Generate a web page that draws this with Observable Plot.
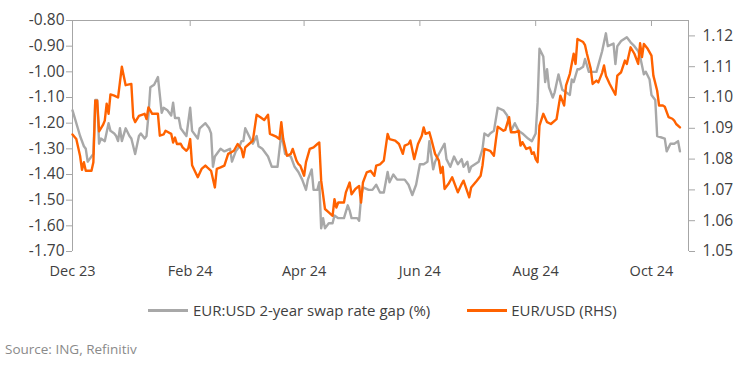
<!DOCTYPE html>
<html><head><meta charset="utf-8">
<script src="https://cdn.jsdelivr.net/npm/d3@7"></script>
<script src="https://cdn.jsdelivr.net/npm/@observablehq/plot@0.6"></script>
<style>
body{margin:0;background:#fff;font-family:"Open Sans",sans-serif;}
#wrap{position:relative;width:745px;height:367px;overflow:hidden;}
#legend{position:absolute;top:300px;left:148px;display:flex;align-items:center;font-size:15px;color:#404040;white-space:nowrap;}
.sw{display:inline-block;width:40px;height:3px;margin-right:5px;}
#source{position:absolute;left:5px;top:340px;font-size:13.5px;color:#8a8a8a;}
</style></head><body>
<div id="wrap"><div id="chart"></div>
<div id="legend"><span class="sw" style="background:#a8a8a8"></span><span>EUR:USD 2-year swap rate gap (%)</span><span class="sw" style="background:#ff6200;margin-left:37px;margin-right:4px"></span><span>EUR/USD (RHS)</span></div>
<div id="source">Source: ING, Refinitiv</div></div>
<script>
const gapDates = ["2023-12-01","2023-12-03","2023-12-05","2023-12-07","2023-12-08","2023-12-09","2023-12-10","2023-12-11","2023-12-12","2023-12-13","2023-12-14","2023-12-15","2023-12-16","2023-12-18","2023-12-20","2023-12-21","2023-12-23","2023-12-24","2023-12-25","2023-12-26","2023-12-27","2023-12-29","2023-12-31",
"2024-01-01","2024-01-03","2024-01-05","2024-01-06","2024-01-08","2024-01-09","2024-01-10","2024-01-11","2024-01-13","2024-01-15","2024-01-17","2024-01-18","2024-01-20","2024-01-22","2024-01-23","2024-01-24","2024-01-26","2024-01-27","2024-01-29","2024-01-30",
"2024-02-01","2024-02-02","2024-02-04","2024-02-05","2024-02-06","2024-02-09","2024-02-11","2024-02-12","2024-02-13","2024-02-14","2024-02-17","2024-02-19","2024-02-22","2024-02-23","2024-02-25","2024-02-27","2024-02-28","2024-02-29",
"2024-03-01","2024-03-03","2024-03-05","2024-03-07","2024-03-08","2024-03-10","2024-03-13","2024-03-15","2024-03-18","2024-03-20","2024-03-22","2024-03-25","2024-03-27","2024-03-29","2024-03-31",
"2024-04-02","2024-04-03","2024-04-05","2024-04-06","2024-04-08","2024-04-09","2024-04-10","2024-04-11","2024-04-12","2024-04-14","2024-04-16","2024-04-17","2024-04-19","2024-04-22","2024-04-24","2024-04-25","2024-04-26","2024-04-29","2024-04-30",
"2024-05-01","2024-05-02","2024-05-05","2024-05-07","2024-05-09","2024-05-11","2024-05-13","2024-05-15","2024-05-16","2024-05-18","2024-05-20","2024-05-23","2024-05-24","2024-05-26","2024-05-28","2024-05-30",
"2024-06-01","2024-06-03","2024-06-05","2024-06-06","2024-06-08","2024-06-09","2024-06-11","2024-06-14","2024-06-15","2024-06-17","2024-06-19","2024-06-21","2024-06-23","2024-06-24","2024-06-26","2024-06-27","2024-06-28","2024-06-30",
"2024-07-02","2024-07-04","2024-07-05","2024-07-07","2024-07-08","2024-07-10","2024-07-12","2024-07-15","2024-07-17","2024-07-19","2024-07-21","2024-07-23","2024-07-25","2024-07-28","2024-07-30",
"2024-08-01","2024-08-02","2024-08-03","2024-08-05","2024-08-06","2024-08-07","2024-08-08","2024-08-10","2024-08-11","2024-08-13","2024-08-15","2024-08-17","2024-08-19","2024-08-20","2024-08-21","2024-08-23","2024-08-24","2024-08-26","2024-08-27","2024-08-29","2024-08-31",
"2024-09-02","2024-09-05","2024-09-07","2024-09-08","2024-09-11","2024-09-12","2024-09-13","2024-09-15","2024-09-18","2024-09-20","2024-09-22","2024-09-24","2024-09-25","2024-09-27","2024-09-28","2024-09-30",
"2024-10-01","2024-10-03","2024-10-04","2024-10-08","2024-10-09","2024-10-11","2024-10-13","2024-10-15","2024-10-16"];
const gapValues = [-1.15,-1.20,-1.25,-1.29,-1.30,-1.35,-1.34,-1.33,-1.32,-1.11,-1.11,-1.28,-1.26,-1.27,-1.20,-1.23,-1.24,-1.25,-1.27,-1.22,-1.27,-1.22,-1.25,
-1.26,-1.32,-1.25,-1.24,-1.26,-1.25,-1.17,-1.06,-1.05,-1.02,-1.16,-1.14,-1.15,-1.17,-1.12,-1.18,-1.18,-1.22,-1.24,-1.25,
-1.14,-1.23,-1.25,-1.26,-1.22,-1.20,-1.22,-1.24,-1.37,-1.33,-1.30,-1.31,-1.30,-1.35,-1.31,-1.29,-1.27,-1.27,
-1.22,-1.25,-1.28,-1.25,-1.29,-1.30,-1.33,-1.37,-1.37,-1.24,-1.32,-1.33,-1.37,-1.39,-1.42,
-1.46,-1.42,-1.38,-1.46,-1.46,-1.43,-1.61,-1.57,-1.61,-1.59,-1.59,-1.56,-1.57,-1.57,-1.52,-1.54,-1.57,-1.57,-1.58,
-1.49,-1.45,-1.46,-1.46,-1.44,-1.47,-1.47,-1.39,-1.43,-1.40,-1.42,-1.42,-1.42,-1.44,-1.48,-1.44,
-1.36,-1.36,-1.35,-1.27,-1.38,-1.35,-1.32,-1.28,-1.34,-1.37,-1.33,-1.36,-1.34,-1.37,-1.35,-1.39,-1.37,-1.36,
-1.35,-1.30,-1.24,-1.25,-1.24,-1.23,-1.14,-1.15,-1.17,-1.23,-1.20,-1.23,-1.24,-1.26,-1.27,
-1.24,-1.12,-0.91,-0.94,-1.04,-0.99,-1.06,-1.10,-1.08,-1.01,-1.07,-1.08,-1.09,-1.03,-1.04,-0.99,-0.99,-0.98,-0.95,-1.00,-1.00,
-1.00,-0.92,-0.85,-0.90,-0.89,-0.97,-0.90,-0.88,-0.865,-0.885,-0.90,-0.92,-0.94,-1.01,-1.00,-1.03,
-1.09,-1.11,-1.25,-1.26,-1.31,-1.28,-1.28,-1.27,-1.31];

const fxDates = ["2023-12-01","2023-12-03","2023-12-04","2023-12-05","2023-12-06","2023-12-07","2023-12-08","2023-12-11","2023-12-12","2023-12-13","2023-12-14","2023-12-15","2023-12-17","2023-12-18","2023-12-19","2023-12-20","2023-12-21","2023-12-23","2023-12-25","2023-12-27","2023-12-28","2023-12-29",
"2024-01-01","2024-01-02","2024-01-03","2024-01-05","2024-01-08","2024-01-09","2024-01-10","2024-01-12","2024-01-15","2024-01-16","2024-01-18","2024-01-19","2024-01-22","2024-01-23","2024-01-24","2024-01-25","2024-01-27","2024-01-28","2024-01-30","2024-01-31",
"2024-02-01","2024-02-02","2024-02-05","2024-02-07","2024-02-09","2024-02-10","2024-02-12","2024-02-14","2024-02-15","2024-02-17","2024-02-19","2024-02-21","2024-02-22","2024-02-24","2024-02-26","2024-02-28","2024-02-29",
"2024-03-01","2024-03-03","2024-03-05","2024-03-07","2024-03-09","2024-03-11","2024-03-13","2024-03-14","2024-03-17","2024-03-19","2024-03-20","2024-03-21","2024-03-23","2024-03-25","2024-03-26","2024-03-28","2024-03-29","2024-03-30",
"2024-04-01","2024-04-02","2024-04-04","2024-04-06","2024-04-08","2024-04-09","2024-04-10","2024-04-12","2024-04-14","2024-04-16","2024-04-17","2024-04-18","2024-04-19","2024-04-22","2024-04-23","2024-04-25","2024-04-26","2024-04-28","2024-04-30",
"2024-05-01","2024-05-02","2024-05-04","2024-05-06","2024-05-08","2024-05-09","2024-05-11","2024-05-13","2024-05-15","2024-05-16","2024-05-19","2024-05-21","2024-05-23","2024-05-24","2024-05-26","2024-05-27","2024-05-29","2024-05-31",
"2024-06-02","2024-06-03","2024-06-04","2024-06-06","2024-06-07","2024-06-09","2024-06-11","2024-06-12","2024-06-13","2024-06-14","2024-06-16","2024-06-18","2024-06-21","2024-06-23","2024-06-24","2024-06-27","2024-06-28",
"2024-07-01","2024-07-03","2024-07-04","2024-07-05","2024-07-08","2024-07-10","2024-07-11","2024-07-12","2024-07-15","2024-07-16","2024-07-18","2024-07-19","2024-07-21","2024-07-23","2024-07-24","2024-07-25","2024-07-27","2024-07-29","2024-07-30","2024-07-31",
"2024-08-01","2024-08-02","2024-08-03","2024-08-05","2024-08-07","2024-08-09","2024-08-12","2024-08-14","2024-08-16","2024-08-17","2024-08-19","2024-08-21","2024-08-22","2024-08-23","2024-08-26","2024-08-27","2024-08-28","2024-08-30","2024-08-31",
"2024-09-02","2024-09-03","2024-09-05","2024-09-06","2024-09-07","2024-09-09","2024-09-12","2024-09-13","2024-09-15","2024-09-17","2024-09-18","2024-09-20","2024-09-22","2024-09-24","2024-09-25","2024-09-26","2024-09-27","2024-09-29",
"2024-10-01","2024-10-02","2024-10-04","2024-10-05","2024-10-07","2024-10-08","2024-10-10","2024-10-12","2024-10-13","2024-10-14","2024-10-16"];
const fxValues = [1.0880,1.0865,1.0838,1.0810,1.0765,1.0790,1.0762,1.0762,1.0790,1.0990,1.0990,1.0890,1.0910,1.0925,1.0980,1.0947,1.1010,1.1006,1.1000,1.1100,1.1070,1.1040,
1.1044,1.0936,1.0920,1.0940,1.0947,1.0930,1.0968,1.0947,1.0947,1.0876,1.0880,1.0892,1.0882,1.0854,1.0870,1.0849,1.0850,1.0838,1.0827,1.0835,
1.0865,1.0780,1.0741,1.0768,1.0779,1.0773,1.0762,1.0708,1.0768,1.0773,1.0779,1.0817,1.0820,1.0827,1.0849,1.0833,1.0806,
1.0838,1.0849,1.0860,1.0944,1.0936,1.0927,1.0944,1.0882,1.0874,1.0865,1.0920,1.0865,1.0811,1.0817,1.0833,1.0795,1.0784,1.0779,
1.0746,1.0790,1.0833,1.0838,1.0849,1.0854,1.0730,1.0638,1.0627,1.0616,1.0670,1.0643,1.0659,1.0659,1.0692,1.0724,1.0686,1.0703,1.0713,
1.0659,1.0724,1.0757,1.0762,1.0746,1.0779,1.0783,1.0795,1.0882,1.0865,1.0860,1.0849,1.0817,1.0844,1.0849,1.0860,1.0800,1.0849,
1.0876,1.0903,1.0882,1.0887,1.0865,1.0817,1.0795,1.0755,1.0775,1.0703,1.0719,1.0741,1.0692,1.0719,1.0730,1.0676,1.0708,
1.0730,1.0746,1.0780,1.0833,1.0827,1.0811,1.0860,1.0905,1.0892,1.0895,1.0936,1.0887,1.0887,1.0892,1.0844,1.0855,1.0833,1.0838,1.0817,1.0822,
1.0800,1.0790,1.0909,1.0947,1.0920,1.0914,1.0930,1.1006,1.0974,1.1039,1.1077,1.1142,1.1109,1.1190,1.1180,1.1170,1.1142,1.1093,1.1044,
1.1055,1.1049,1.1080,1.1104,1.1071,1.1044,1.1009,1.1071,1.1082,1.1120,1.1109,1.1163,1.1142,1.1109,1.1176,1.1131,1.1174,1.1158,
1.1136,1.1071,1.1022,1.0974,1.0974,1.0970,1.0936,1.0931,1.0925,1.0914,1.0903];

const leftTicks = [-1.70,-1.60,-1.50,-1.40,-1.30,-1.20,-1.10,-1.00,-0.90,-0.80];
const rightTicks = [1.05,1.06,1.07,1.08,1.09,1.10,1.11,1.12];
const monthTicks = ["2023-12-01","2024-02-01","2024-04-01","2024-06-01","2024-08-01","2024-10-01"];
const leftDomain = [-1.70, -0.80];
const rightDomain = [1.05, 1.125];
const xDomain = ["2023-12-01", "2024-10-20T12:00Z"];

const toLeft = v => leftDomain[0] + (v - rightDomain[0]) * (leftDomain[1] - leftDomain[0]) / (rightDomain[1] - rightDomain[0]);
const fromLeft = v => rightDomain[0] + (v - leftDomain[0]) * (rightDomain[1] - rightDomain[0]) / (leftDomain[1] - leftDomain[0]);

const gap = gapDates.map((d, i) => ({date: new Date(d), value: gapValues[i]}));
const fx = fxDates.map((d, i) => ({date: new Date(d), value: fxValues[i]}));
const months = monthTicks.map(d => new Date(d));
const xd = xDomain.map(d => new Date(d));

const axisColor = "#a6a6a6";
const chart = Plot.plot({
  width: 745,
  height: 290,
  marginTop: 20,
  marginBottom: 39,
  marginLeft: 72,
  marginRight: 57,
  style: {fontFamily: "'Open Sans', sans-serif", fontSize: "14px", color: "#404040", background: "#fff"},
  x: {type: "utc", domain: xd},
  y: {domain: leftDomain},
  marks: [
    Plot.ruleY([leftDomain[1]], {stroke: axisColor, strokeWidth: 1}),
    Plot.ruleX([xd[0], xd[1]], {stroke: axisColor, strokeWidth: 1}),
    Plot.axisX(months, {anchor: "top", tickSize: -5, stroke: axisColor, tickFormat: () => "", label: null}),
    Plot.axisX(months, {anchor: "bottom", tickSize: 0, tickPadding: 14, fontSize: 14.5, tickFormat: d3.utcFormat("%b %y"), label: null}),
    Plot.axisY(leftTicks, {anchor: "left", tickSize: 6, tickPadding: 2, fontSize: 15.5, stroke: axisColor, tickFormat: d => d.toFixed(2), label: null}),
    Plot.axisY(rightTicks.map(toLeft), {anchor: "right", tickSize: 6, tickPadding: 8, fontSize: 15.5, stroke: axisColor, tickFormat: d => fromLeft(d).toFixed(2), label: null}),
    Plot.line(gap, {x: "date", y: "value", stroke: "#a8a8a8", strokeWidth: 2.4, strokeLinejoin: "round"}),
    Plot.line(fx, {x: "date", y: d => toLeft(d.value), stroke: "#ff6200", strokeWidth: 2.4, strokeLinejoin: "round"})
  ]
});
document.getElementById("chart").appendChild(chart);
</script>
</body></html>
